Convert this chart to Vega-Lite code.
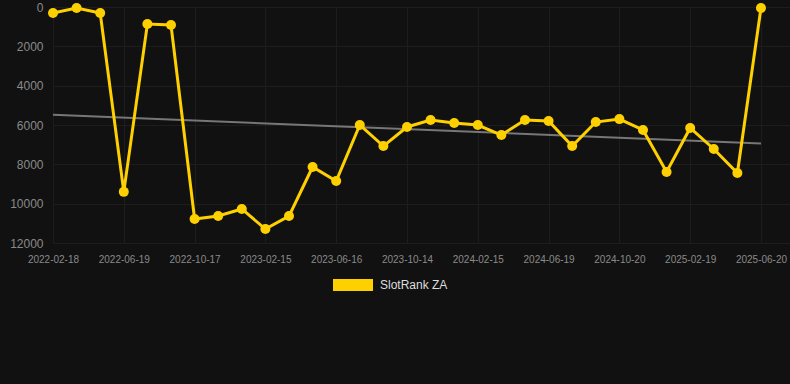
{
  "$schema": "https://vega.github.io/schema/vega-lite/v6.json",
  "autosize": "none",
  "width": 737,
  "height": 236,
  "padding": {"left": 53, "top": 7, "right": 0, "bottom": 141},
  "background": "#111111",
  "config": {
    "view": {"stroke": null},
    "font": "Liberation Sans",
    "axis": {
      "gridColor": "#1d1d1d",
      "gridWidth": 1,
      "domain": false,
      "ticks": false,
      "labelColor": "#8a8a8a",
      "labelFont": "Liberation Sans",
      "title": null
    }
  },
  "data": {
    "values": [
      {"i": 0, "date": "2022-02-18", "rank": 305},
      {"i": 1, "date": "2022-03-30", "rank": 50},
      {"i": 2, "date": "2022-05-10", "rank": 305},
      {"i": 3, "date": "2022-06-19", "rank": 9400},
      {"i": 4, "date": "2022-07-29", "rank": 865},
      {"i": 5, "date": "2022-09-07", "rank": 915},
      {"i": 6, "date": "2022-10-17", "rank": 10780},
      {"i": 7, "date": "2022-11-26", "rank": 10630},
      {"i": 8, "date": "2023-01-06", "rank": 10270},
      {"i": 9, "date": "2023-02-15", "rank": 11290},
      {"i": 10, "date": "2023-03-27", "rank": 10630},
      {"i": 11, "date": "2023-05-07", "rank": 8135},
      {"i": 12, "date": "2023-06-16", "rank": 8850},
      {"i": 13, "date": "2023-07-26", "rank": 6000},
      {"i": 14, "date": "2023-09-04", "rank": 7070},
      {"i": 15, "date": "2023-10-14", "rank": 6100},
      {"i": 16, "date": "2023-11-24", "rank": 5750},
      {"i": 17, "date": "2024-01-04", "rank": 5900},
      {"i": 18, "date": "2024-02-15", "rank": 6000},
      {"i": 19, "date": "2024-03-26", "rank": 6510},
      {"i": 20, "date": "2024-05-08", "rank": 5750},
      {"i": 21, "date": "2024-06-19", "rank": 5800},
      {"i": 22, "date": "2024-07-30", "rank": 7070},
      {"i": 23, "date": "2024-09-09", "rank": 5850},
      {"i": 24, "date": "2024-10-20", "rank": 5700},
      {"i": 25, "date": "2024-11-30", "rank": 6250},
      {"i": 26, "date": "2025-01-09", "rank": 8390},
      {"i": 27, "date": "2025-02-19", "rank": 6150},
      {"i": 28, "date": "2025-03-31", "rank": 7220},
      {"i": 29, "date": "2025-05-11", "rank": 8440},
      {"i": 30, "date": "2025-06-20", "rank": 50}
    ]
  },
  "encoding": {
    "x": {
      "field": "i",
      "type": "quantitative",
      "scale": {"domain": [0, 31.23], "nice": false, "zero": false},
      "axis": {
        "values": [0, 3, 6, 9, 12, 15, 18, 21, 24, 27, 30],
        "labelExpr": "['2022-02-18','2022-06-19','2022-10-17','2023-02-15','2023-06-16','2023-10-14','2024-02-15','2024-06-19','2024-10-20','2025-02-19','2025-06-20'][round(datum.value/3)]",
        "labelFontSize": 10,
        "labelPadding": 11,
        "labelFlush": false,
        "labelOverlap": false
      }
    },
    "y": {
      "field": "rank",
      "type": "quantitative",
      "scale": {"domain": [0, 12000], "reverse": true, "nice": false},
      "axis": {
        "values": [0, 2000, 4000, 6000, 8000, 10000, 12000],
        "labelFontSize": 12,
        "labelPadding": 10,
        "labelFlush": false,
        "format": "d"
      }
    }
  },
  "layer": [
    {
      "transform": [{"regression": "rank", "on": "i"}],
      "mark": {"type": "line", "color": "#777777", "strokeWidth": 2},
      "encoding": {}
    },
    {
      "mark": {
        "type": "line",
        "strokeWidth": 3,
        "point": {"filled": true, "size": 100, "opacity": 1}
      },
      "encoding": {
        "color": {
          "datum": "SlotRank ZA",
          "type": "nominal",
          "scale": {"domain": ["SlotRank ZA"], "range": ["#FFD000"]},
          "legend": {
            "title": null,
            "orient": "none",
            "legendX": 280,
            "legendY": 258,
            "padding": 0,
            "symbolType": "M-1,-0.3H1V0.3H-1Z",
            "symbolSize": 1600,
            "symbolStrokeWidth": 0,
            "symbolFillColor": "#FFD000",
            "symbolOpacity": 1,
            "labelColor": "#dddddd",
            "labelFontSize": 12,
            "labelFont": "Liberation Sans",
            "labelOffset": 7
          }
        }
      }
    }
  ]
}
